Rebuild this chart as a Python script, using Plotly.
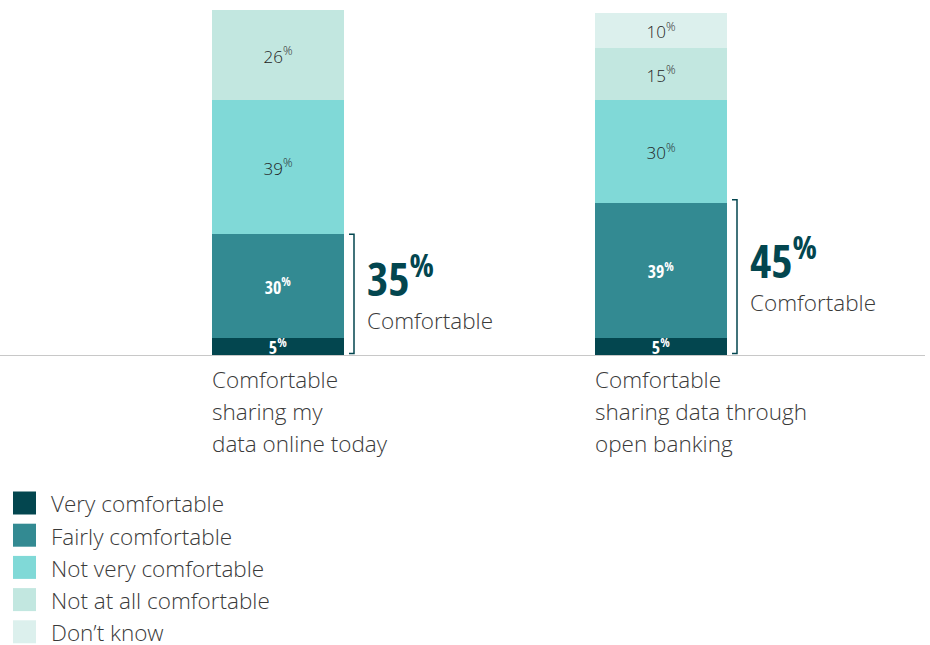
import plotly.graph_objects as go

categories = ["Comfortable sharing my data online today",
              "Comfortable sharing data through open banking"]
category_lines = [["Comfortable", "sharing my", "data online today"],
                  ["Comfortable", "sharing data through", "open banking"]]
series_names = ["Very comfortable", "Fairly comfortable", "Not very comfortable",
                "Not at all comfortable", "Don\u2019t know"]
very = [5, 5]
fairly = [30, 39]
not_very = [39, 30]
not_at_all = [26, 15]
dont_know = [0, 10]
comfortable_total = [35, 45]

series_values = [very, fairly, not_very, not_at_all, dont_know]
colors = ["#03464f", "#338a92", "#80d9d7", "#c2e7e0", "#dcf0ed"]

W, H = 930, 645
ML, MR, MT, MB = 0, 5, 10, 290
plot_w = W - ML - MR
plot_h = H - MT - MB
x_pos = [0, 1]
px_per_unit = 383.0
x0 = -278 / px_per_unit
x1 = x0 + plot_w / px_per_unit
bar_w = 132 / px_per_unit

cond_font = "Open Sans Condensed, Liberation Sans Narrow, Open Sans"
txt_font = "Open Sans"
seg_fonts = [dict(family=cond_font, size=18, color="white", weight=700),
             dict(family=cond_font, size=18, color="white", weight=700),
             dict(family=txt_font, size=17, color="#222222", weight=300),
             dict(family=txt_font, size=17, color="#222222", weight=300),
             dict(family=txt_font, size=17, color="#222222", weight=300)]

fig = go.Figure()
for name, vals, col, tf in zip(series_names, series_values, colors, seg_fonts):
    fig.add_trace(go.Bar(
        x=x_pos, y=vals, name=name, marker=dict(color=col, line=dict(width=0)),
        width=bar_w,
        text=[f"{v}<sup>%</sup>" if v else "" for v in vals],
        textposition="inside", insidetextanchor="middle", textangle=0,
        constraintext="none",
        textfont=tf,
        showlegend=False, hoverinfo="skip",
    ))

annotations = []
shapes = []
for i, xp in enumerate(x_pos):
    left = xp - bar_w / 2
    right = xp + bar_w / 2
    for j, line in enumerate(category_lines[i]):
        annotations.append(dict(
            x=left, y=0, xref="x", yref="y", xanchor="left", yanchor="middle",
            yshift=-(24 + 32 * j), xshift=-2, text=line, showarrow=False,
            font=dict(family=txt_font, size=22.5, color="#3a3a3a", weight=300)))
    bx = right + 10 / px_per_unit
    tick = 5 / px_per_unit
    top = comfortable_total[i]
    shapes.append(dict(type="path", xref="x", yref="y",
                       path=f"M {bx - tick} {top} L {bx} {top} L {bx} 0.4 L {bx - tick} 0.4",
                       line=dict(color="#03464f", width=1.5)))
    yc = top / 2
    annotations.append(dict(
        x=bx, y=yc, xref="x", yref="y", xanchor="left", yanchor="bottom",
        xshift=11, yshift=-16, text=f"<b>{comfortable_total[i]}<sup>%</sup></b>", showarrow=False,
        font=dict(family=cond_font, size=46, color="#03464f", weight=700)))
    annotations.append(dict(
        x=bx, y=yc, xref="x", yref="y", xanchor="left", yanchor="top",
        xshift=11, yshift=-8, text="Comfortable", showarrow=False,
        font=dict(family=txt_font, size=22.5, color="#3a3a3a", weight=300)))

def py2paper(py):
    return (MT + plot_h - py) / plot_h

def px2paper(px):
    return (px - ML) / plot_w

for k, (name, col) in enumerate(zip(series_names, colors)):
    cy = 503 + 32.2 * k
    shapes.append(dict(type="rect", xref="paper", yref="paper",
                       x0=px2paper(13), x1=px2paper(36),
                       y0=py2paper(cy - 11.5), y1=py2paper(cy + 11.5),
                       fillcolor=col, line=dict(width=0)))
    annotations.append(dict(
        x=px2paper(49), y=py2paper(cy + 1), xref="paper", yref="paper",
        xanchor="left", yanchor="middle", text=name, showarrow=False,
        font=dict(family=txt_font, size=22.5, color="#3a3a3a", weight=300)))

fig.update_layout(
    width=W, height=H, barmode="stack", bargap=0,
    margin=dict(l=ML, r=MR, t=MT, b=MB),
    paper_bgcolor="white", plot_bgcolor="white",
    xaxis=dict(range=[x0, x1], showgrid=False, zeroline=False, showticklabels=False,
               showline=True, linecolor="#c8c8c8", linewidth=1, fixedrange=True),
    yaxis=dict(range=[0, 100], showgrid=False, zeroline=False, showticklabels=False,
               showline=False, fixedrange=True),
    annotations=annotations, shapes=shapes, showlegend=False,
)
fig.write_html("out.html")
